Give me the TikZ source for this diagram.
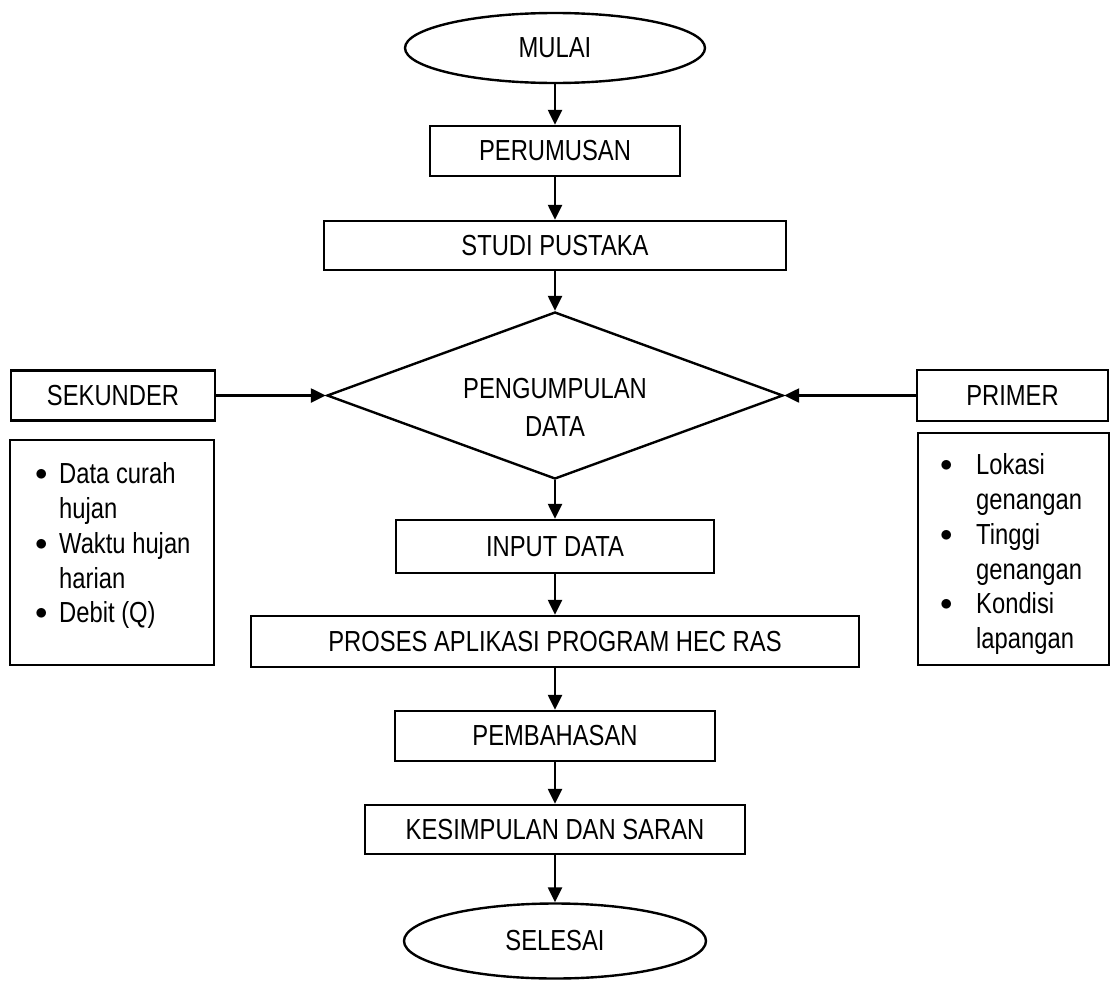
\documentclass[tikz,border=0pt]{standalone}
\usepackage{fontspec}
\setmainfont{Liberation Sans}[FakeStretch=0.82]
\usetikzlibrary{shapes.geometric,arrows.meta}
\begin{document}
\begin{tikzpicture}[x=1pt,y=-1pt,
  every node/.style={font=\fontsize{29}{34.8}\selectfont, line width=2.4pt},
  box/.style={draw, rectangle, inner sep=0pt, align=center},
  term/.style={draw, ellipse, inner sep=0pt},
  decision/.style={draw, diamond, aspect=2.73, inner sep=0pt, minimum width=456pt, minimum height=167pt},
  flow/.style={line width=2.4pt, -{Triangle[length=15pt,width=14pt]}},
  listbox/.style={draw, rectangle, inner sep=0pt, anchor=north west}]
\useasboundingbox (0,0) rectangle (1119,980);
\fill[white] (0,0) rectangle (1119,980);

\node[term, minimum width=300pt, minimum height=70pt] (mulai) at (555,48) {MULAI};
\node[box, minimum width=250pt, minimum height=50pt] (perumusan) at (555,151) {PERUMUSAN};
\node[box, minimum width=462pt, minimum height=49pt] (studi) at (555,245.5) {STUDI PUSTAKA};
\node[decision] (pengumpulan) at (555,395.5) {};
\node[font=\fontsize{29}{38}\selectfont, align=center] (pengtext) at (555,407) {PENGUMPULAN\\DATA};
\node[box, minimum width=204pt, minimum height=50pt] (sekunder) at (113,395.5) {SEKUNDER};
\node[box, minimum width=191pt, minimum height=51pt] (primer) at (1012.5,395.5) {PRIMER};
\node[box, minimum width=318pt, minimum height=53pt] (input) at (555,546.5) {INPUT DATA};
\node[box, minimum width=608pt, minimum height=51pt] (proses) at (555,641.5) {PROSES APLIKASI PROGRAM HEC RAS};
\node[box, minimum width=320pt, minimum height=50pt] (pembahasan) at (555,736) {PEMBAHASAN};
\node[box, minimum width=380pt, minimum height=49pt] (kesimpulan) at (555,829.5) {KESIMPULAN DAN SARAN};
\node[term, minimum width=302pt, minimum height=75pt] (selesai) at (555,941) {SELESAI};

\node[listbox] (seklist) at (9,439) {\begin{minipage}[c][225pt][t]{204pt}%
\vspace*{22.5pt}%
\hspace*{25pt}\makebox[24pt][l]{\raisebox{3pt}{$\bullet$}}Data curah\\
\hspace*{49pt}hujan\\
\hspace*{25pt}\makebox[24pt][l]{\raisebox{3pt}{$\bullet$}}Waktu hujan\\
\hspace*{49pt}harian\\
\hspace*{25pt}\makebox[24pt][l]{\raisebox{3pt}{$\bullet$}}Debit (Q)
\end{minipage}};

\node[listbox] (primlist) at (917,432) {\begin{minipage}[c][232pt][t]{191pt}%
\vspace*{20.5pt}%
\hspace*{22pt}\makebox[36pt][l]{\raisebox{3pt}{$\bullet$}}Lokasi\\
\hspace*{58pt}genangan\\
\hspace*{22pt}\makebox[36pt][l]{\raisebox{3pt}{$\bullet$}}Tinggi\\
\hspace*{58pt}genangan\\
\hspace*{22pt}\makebox[36pt][l]{\raisebox{3pt}{$\bullet$}}Kondisi\\
\hspace*{58pt}lapangan
\end{minipage}};

\draw[flow] (mulai.south) -- (perumusan.north);
\draw[flow] (perumusan.south) -- (studi.north);
\draw[flow] (studi.south) -- (pengumpulan.north);
\draw[flow] (pengumpulan.south) -- (input.north);
\draw[flow] (input.south) -- (proses.north);
\draw[flow] (proses.south) -- (pembahasan.north);
\draw[flow] (pembahasan.south) -- (kesimpulan.north);
\draw[flow] (kesimpulan.south) -- (selesai.north);
\draw[flow] (sekunder.east) -- (pengumpulan.west);
\draw[flow] (primer.west) -- (pengumpulan.east);
\end{tikzpicture}
\end{document}
